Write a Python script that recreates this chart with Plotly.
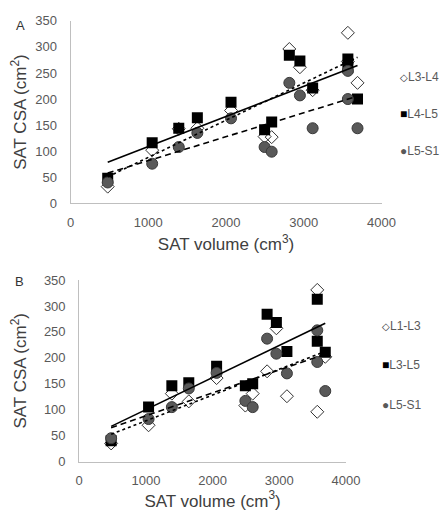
import numpy as np
import plotly.graph_objects as go

# ---------------- data ----------------
# Panel A
a_x = [478, 1050, 1392, 1631, 2064, 2496, 2587, 2814, 2950, 3114, 3567, 3567, 3691]
a_l3l4 = [32, 102, 143, 144, 178, 128, 127, 296, 261, 217, 327, 272, 231]
a_l4l5 = [48, 116, 144, 164, 194, 141, 156, 284, 273, 221, 277, 260, 200]
a_l5s1 = [40, 76, 108, 135, 163, 108, 99, 231, 207, 144, 254, 200, 144]
a_names = ["L3-L4", "L4-L5", "L5-S1"]

# Panel B
b_x = [479, 1040, 1389, 1643, 2060, 2491, 2601, 2817, 2956, 3114, 3569, 3569, 3689]
b_l1l3 = [35, 70, 131, 116, 161, 108, 131, 174, 257, 126, 331, 96, 202]
b_l3l5 = [40, 105, 146, 152, 184, 146, 150, 284, 268, 212, 313, 232, 211]
b_l5s1 = [45, 82, 105, 141, 171, 117, 105, 237, 208, 170, 253, 192, 136]
b_names = ["L1-L3", "L3-L5", "L5-S1"]

x_ticks = [0, 1000, 2000, 3000, 4000]
y_ticks = [0, 50, 100, 150, 200, 250, 300, 350]

# ---------------- styles ----------------
FONT = "Liberation Sans, Arial, sans-serif"
TICKC = "#595959"
AXC = "#bfbfbf"
marker_styles = [
    dict(symbol="diamond-open", size=10, color="#333333", line=dict(width=1, color="#333333")),
    dict(symbol="square", size=11, color="#000000", line=dict(width=0)),
    dict(symbol="circle", size=11, color="#595959", line=dict(width=1, color="#3a3a3a")),
]
line_dashes = ["dot", "solid", "6px,4px"]

fig = go.Figure()


def add_panel(xv, series, xa, ya):
    for ys, ms in zip(series, marker_styles):
        fig.add_trace(go.Scatter(x=xv, y=ys, mode="markers", marker=ms,
                                 xaxis=xa, yaxis=ya, showlegend=False,
                                 hoverinfo="x+y"))
    for ys, dash in zip(series, line_dashes):
        k, b = np.polyfit(np.array(xv, float), np.array(ys, float), 1)
        xs = np.array([min(xv), max(xv)], float)
        fig.add_trace(go.Scatter(x=xs, y=k * xs + b, mode="lines",
                                 line=dict(color="black", width=1.6, dash=dash),
                                 xaxis=xa, yaxis=ya, showlegend=False,
                                 hoverinfo="skip"))


add_panel(a_x, [a_l3l4, a_l4l5, a_l5s1], "x", "y")
add_panel(b_x, [b_l1l3, b_l3l5, b_l5s1], "x2", "y2")

W, H = 448, 514


def px_x(p):
    return p / W


def px_y(p):
    return 1 - p / H


common_x = dict(range=[0, 4000], tickvals=x_ticks, showgrid=False, zeroline=False,
                showline=True, linecolor=AXC, linewidth=1, ticks="",
                tickfont=dict(family=FONT, size=13, color=TICKC),
                ticklabelstandoff=7, fixedrange=True)
common_y = dict(range=[0, 350], tickvals=y_ticks, showgrid=False, zeroline=False,
                showline=True, linecolor=AXC, linewidth=1, ticks="",
                tickfont=dict(family=FONT, size=13, color=TICKC),
                ticklabelstandoff=10, fixedrange=True)

xtitle = "SAT volume (cm<sup>3</sup>)"
ytitle = "SAT CSA (cm<sup>2</sup>)"
tfont = dict(family=FONT, size=17, color="#404040")

fig.update_layout(
    width=W, height=H,
    margin=dict(l=0, r=0, t=0, b=0),
    paper_bgcolor="white", plot_bgcolor="white",
    showlegend=False,
    xaxis=dict(common_x, domain=[px_x(61), px_x(385)], anchor="y",
               title=dict(text=xtitle, font=tfont, standoff=9)),
    yaxis=dict(common_y, domain=[px_y(194), px_y(6)], anchor="x",
               title=dict(text=ytitle, font=tfont, standoff=6)),
    xaxis2=dict(common_x, domain=[px_x(70), px_x(348)], anchor="y2",
                title=dict(text=xtitle, font=tfont, standoff=7)),
    yaxis2=dict(common_y, domain=[px_y(460), px_y(273)], anchor="x2",
                title=dict(text=ytitle, font=tfont, standoff=12)),
)

fig.add_annotation(x=px_x(2), y=px_y(1), xref="paper", yref="paper", text="A",
                   showarrow=False, xanchor="left", yanchor="top",
                   font=dict(family=FONT, size=13, color="#333333"))
fig.add_annotation(x=px_x(1), y=px_y(265), xref="paper", yref="paper", text="B",
                   showarrow=False, xanchor="left", yanchor="top",
                   font=dict(family=FONT, size=13, color="#333333"))

glyphs = ['<span style="color:#333333;font-size:10px">\u25c7</span>',
          '<span style="color:#000000;font-size:12px">\u25a0</span>',
          '<span style="color:#595959;font-size:12px">\u25cf</span>']
for name, g, yp in zip(a_names, glyphs, [64, 102, 140]):
    fig.add_annotation(x=px_x(402), y=px_y(yp), xref="paper", yref="paper",
                       text=g + name, showarrow=False, xanchor="left", yanchor="middle",
                       font=dict(family=FONT, size=12, color=TICKC))
for name, g, yp in zip(b_names, glyphs, [320, 361, 402]):
    fig.add_annotation(x=px_x(383), y=px_y(yp), xref="paper", yref="paper",
                       text=g + name, showarrow=False, xanchor="left", yanchor="middle",
                       font=dict(family=FONT, size=12, color=TICKC))

fig.write_html("out.html")
